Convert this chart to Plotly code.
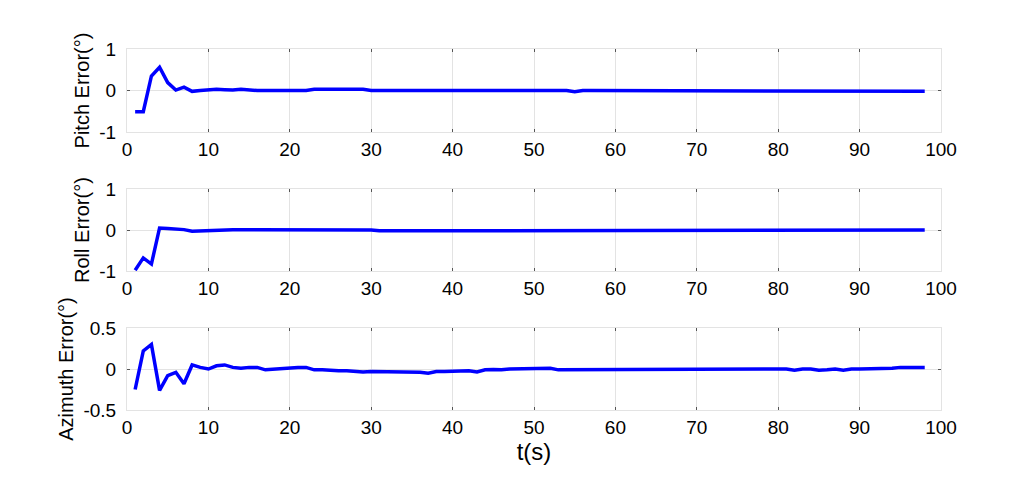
import plotly.graph_objects as go

t = list(range(1, 99))

pitch_err = [
    -0.51, -0.51, 0.35, 0.56, 0.19, 0.01, 0.08, -0.02, 0.0, 0.02,
    0.03, 0.02, 0.01, 0.03, 0.01, 0.0, 0.0, 0.0, 0.0, 0.0,
    0.0, 0.0, 0.03, 0.03, 0.03, 0.03, 0.03, 0.03, 0.03, 0.0,
    0.0, 0.0, 0.0, 0.0, 0.0, 0.0, 0.0, 0.0, 0.0, 0.0,
    0.0, 0.0, 0.0, 0.0, 0.0, 0.0, 0.0, 0.0, 0.0, 0.0,
    0.0, 0.0, 0.0, 0.0, -0.03, 0.0, 0.0, 0.0, 0.0, 0.0,
    0.0, 0.0, 0.0, 0.0, 0.0, 0.0, 0.0, 0.0, 0.0, 0.0,
    0.0, 0.0, 0.0, 0.0, 0.0, 0.0, 0.0, 0.0, 0.0, 0.0,
    0.0, 0.0, 0.0, 0.0, 0.0, 0.0, 0.0, 0.0, 0.0, 0.0,
    0.0, 0.0, 0.0, 0.0, 0.0, 0.0, -0.02, -0.02,
]

roll_err = [
    -0.98, -0.68, -0.83, 0.05, 0.04, 0.03, 0.01, -0.03, -0.02, 0.0,
    0.01, 0.01, 0.01, 0.01, 0.01, 0.01, 0.01, -0.01, -0.01, 0.01,
    0.01, 0.01, 0.0, 0.0, 0.0, 0.0, 0.0, 0.0, 0.0, 0.0,
    -0.02, -0.02, -0.02, -0.02, -0.02, -0.02, -0.02, -0.02, -0.02, -0.02,
    -0.02, -0.02, -0.02, 0.0, 0.0, 0.0, 0.0, 0.0, 0.0, 0.0,
    0.0, 0.0, 0.0, 0.0, 0.0, 0.0, 0.0, 0.0, 0.0, 0.0,
    0.0, 0.0, 0.0, 0.0, 0.0, 0.0, 0.0, 0.0, 0.0, 0.0,
    0.0, 0.0, 0.0, 0.0, 0.0, 0.0, 0.0, 0.0, 0.0, 0.0,
    0.0, 0.0, 0.0, 0.0, 0.0, -0.02, -0.02, 0.0, 0.0, 0.0,
    0.0, 0.0, 0.0, 0.0, 0.0, 0.0, 0.0, 0.0,
]

azimuth_err = [
    -0.25, 0.22, 0.30, -0.26, -0.08, -0.04, -0.18, 0.05, 0.02, 0.0,
    0.04, 0.05, 0.02, 0.01, 0.02, 0.02, -0.01, 0.0, 0.0, 0.01,
    0.02, 0.02, -0.01, -0.01, -0.02, -0.02, -0.02, -0.03, -0.035, -0.03,
    -0.03, -0.03, -0.04, -0.04, -0.04, -0.04, -0.05, -0.03, -0.03, -0.025,
    -0.025, -0.02, -0.035, -0.01, -0.005, -0.01, 0.0, 0.0, 0.0, 0.0,
    0.0, 0.01, -0.01, -0.01, 0.0, 0.0, 0.0, -0.005, -0.01, 0.0,
    0.0, 0.0, 0.0, 0.0, 0.0, 0.0, 0.0, 0.0, 0.0, 0.0,
    0.0, 0.0, 0.0, 0.0, 0.0, 0.0, 0.0, 0.0, 0.0, 0.0,
    0.0, -0.015, 0.0, 0.0, -0.015, -0.01, 0.0, -0.015, 0.0, 0.0,
    0.0, 0.005, 0.01, 0.01, 0.02, 0.02, 0.02, 0.02,
]

x_ticks = [0, 10, 20, 30, 40, 50, 60, 70, 80, 90, 100]
panels = [
    ("Pitch Error(°)", pitch_err, [-1, 0, 1], [0.770, 1.0]),
    ("Roll Error(°)", roll_err, [-1, 0, 1], [0.385, 0.612]),
    ("Azimuth Error(°)", azimuth_err, [-0.5, 0, 0.5], [0.0, 0.227]),
]

FONT = "Liberation Sans, Arial, sans-serif"
GRID = "#e3e3e3"

fig = go.Figure()
layout = {}
for i, (label, values, y_ticks, domain) in enumerate(panels, start=1):
    suffix = "" if i == 1 else str(i)
    fig.add_trace(
        go.Scatter(
            x=t,
            y=values,
            mode="lines",
            line=dict(color="#0000ff", width=3.5),
            xaxis="x" + suffix,
            yaxis="y" + suffix,
            showlegend=False,
        )
    )
    axis_style = dict(
        showgrid=True,
        gridcolor=GRID,
        gridwidth=1,
        zeroline=False,
        showline=True,
        linecolor=GRID,
        linewidth=1,
        mirror="allticks",
        ticks="inside",
        ticklen=3,
        tickcolor="#555555",
        tickfont=dict(size=19, color="black", family=FONT),
    )
    layout["xaxis" + suffix] = dict(
        axis_style,
        domain=[0, 1],
        range=[0, 100],
        tickvals=x_ticks,
        anchor="y" + suffix,
    )
    layout["yaxis" + suffix] = dict(
        axis_style,
        domain=domain,
        range=[y_ticks[0], y_ticks[-1]],
        tickvals=y_ticks,
        ticktext=[f"{v:g}" for v in y_ticks],
        ticklabelstandoff=6,
        anchor="x" + suffix,
        title=dict(text=label, font=dict(size=20, color="black", family=FONT), standoff=4),
    )

layout["xaxis3"]["title"] = dict(
    text="t(s)", font=dict(size=24, color="black", family=FONT), standoff=0
)

# page body adds an 8px offset, so margins are shifted to compensate
fig.update_layout(
    **layout,
    width=1024,
    height=489,
    margin=dict(l=119, r=91, t=41, b=87),
    paper_bgcolor="white",
    plot_bgcolor="white",
)

fig.write_html("out.html")
